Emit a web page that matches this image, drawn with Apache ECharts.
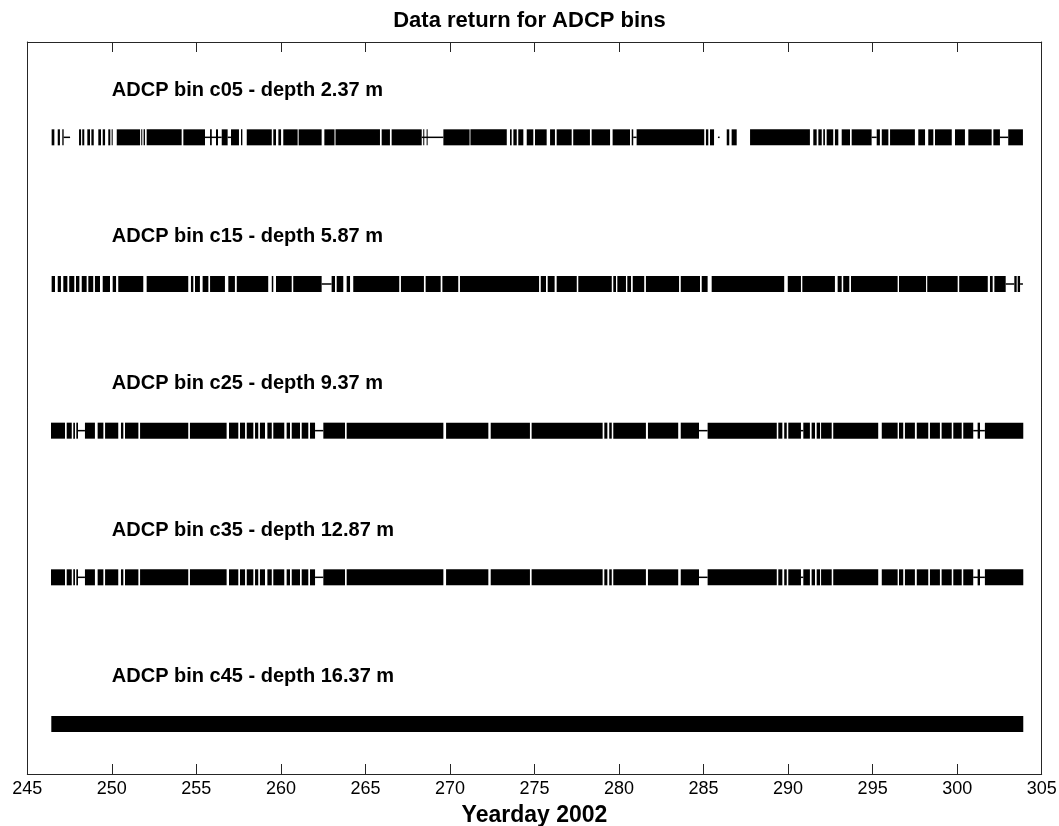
<!DOCTYPE html>
<html>
<head>
<meta charset="utf-8">
<script src="https://cdn.jsdelivr.net/npm/echarts@6/dist/echarts.min.js"></script>
<style>
html,body{margin:0;padding:0;background:#fff;}
#chart{width:1059px;height:826px;}
</style>
</head>
<body>
<div id="chart"></div>
<script>
// ---- data (yeardays) ----
const binLabels = ['ADCP bin c05 - depth 2.37 m','ADCP bin c15 - depth 5.87 m','ADCP bin c25 - depth 9.37 m','ADCP bin c35 - depth 12.87 m','ADCP bin c45 - depth 16.37 m'];
const binRows = [5, 4, 3, 2, 1];
const xTicks = [245,250,255,260,265,270,275,280,285,290,295,300,305];

const c05Segments = [[246.44,246.60],[246.80,246.93],[247.07,247.15],[248.06,248.18],[248.25,248.37],[248.55,248.71],[248.79,248.93],[249.20,249.36],[249.46,249.60],[249.79,249.91],[249.99,250.05],[250.29,251.67],[251.74,251.80],[251.88,251.96],[252.06,254.13],[254.23,255.51],[255.81,255.91],[256.16,256.28],[256.50,256.85],[257.05,257.52],[257.64,257.72],[257.98,259.46],[259.55,259.71],[259.85,260.01],[260.14,260.99],[261.05,262.41],[262.57,263.17],[263.23,265.86],[265.96,266.45],[266.55,268.33],[268.42,268.48],[268.62,268.66],[269.61,271.16],[271.21,273.36],[273.55,273.65],[273.75,273.95],[274.04,274.34],[274.54,274.93],[275.03,275.72],[275.92,276.21],[276.31,277.20],[277.29,278.28],[278.38,279.47],[279.62,280.65],[280.75,280.84],[281.04,285.04],[285.14,285.28],[285.38,285.62],[286.37,286.52],[286.66,286.96],[287.75,291.29],[291.49,291.69],[291.79,291.99],[292.08,292.18],[292.28,292.67],[292.77,292.97],[293.17,293.66],[293.76,294.94],[295.24,295.43],[295.54,295.93],[296.03,297.50],[297.70,298.10],[298.29,298.59],[298.69,299.68],[299.87,300.46],[300.66,302.04],[302.14,302.53],[303.02,303.89]];
const c05Sparse = [[247.15,247.53],[255.51,256.50],[256.85,257.05],[268.33,269.61],[280.84,281.04],[285.85,285.95],[294.94,295.24],[302.53,303.02]];

const c15Segments = [[246.44,246.64],[246.80,246.99],[247.13,247.37],[247.48,247.78],[247.88,248.08],[248.22,248.51],[248.61,248.90],[249.00,249.30],[249.46,249.89],[250.05,250.25],[250.38,251.86],[252.06,254.52],[254.68,254.82],[254.92,255.21],[255.37,255.71],[255.81,256.69],[256.89,257.28],[257.39,259.25],[259.46,259.55],[259.71,260.64],[260.73,262.41],[263.00,263.20],[263.30,263.69],[263.89,264.09],[264.28,267.00],[267.10,268.46],[268.56,269.45],[269.55,270.49],[270.59,275.27],[275.37,275.68],[275.78,276.19],[276.31,277.50],[277.59,279.57],[279.66,279.82],[279.90,280.41],[280.49,280.71],[280.81,281.49],[281.59,283.55],[283.65,284.79],[284.89,285.24],[285.48,289.77],[289.98,290.76],[290.84,292.77],[292.93,293.17],[293.26,293.62],[293.72,296.48],[296.56,298.16],[298.23,300.03],[300.12,301.81],[301.94,302.10],[302.20,302.87],[303.38,303.52],[303.58,303.72]];
const c15Sparse = [[262.41,263.00],[302.87,303.38],[303.72,303.89]];

const c25Segments = [[246.40,247.23],[247.33,247.63],[247.72,247.82],[247.90,248.00],[248.41,249.00],[249.16,249.50],[249.60,250.38],[250.54,250.68],[250.78,251.57],[251.67,254.52],[254.62,256.79],[256.93,257.48],[257.58,257.88],[257.98,258.37],[258.47,258.66],[258.76,259.06],[259.20,259.46],[259.55,260.20],[260.34,260.54],[260.64,261.13],[261.23,261.62],[261.72,262.02],[262.51,263.79],[263.89,269.61],[269.77,272.27],[272.41,274.73],[274.83,279.03],[279.13,279.31],[279.42,279.57],[279.66,281.59],[281.71,283.50],[283.65,284.73],[285.24,289.33],[289.42,289.66],[289.77,289.92],[290.01,290.76],[290.90,291.29],[291.39,291.59],[291.69,291.89],[291.95,292.58],[292.67,295.33],[295.54,296.48],[296.56,296.81],[296.91,297.50],[297.61,298.29],[298.39,298.98],[299.08,299.68],[299.77,300.27],[300.36,300.95],[301.21,301.35],[301.64,303.91]];
const c25Sparse = [[248.00,248.41],[262.02,262.51],[284.73,285.24],[290.76,290.90],[300.95,301.64]];

const c35Segments = [[246.40,247.23],[247.33,247.63],[247.72,247.82],[247.90,248.00],[248.41,249.00],[249.16,249.50],[249.60,250.38],[250.54,250.68],[250.78,251.57],[251.67,254.52],[254.62,256.79],[256.93,257.48],[257.58,257.88],[257.98,258.37],[258.47,258.66],[258.76,259.06],[259.20,259.46],[259.55,260.20],[260.34,260.54],[260.64,261.13],[261.23,261.62],[261.72,262.02],[262.51,263.79],[263.89,269.61],[269.77,272.27],[272.41,274.73],[274.83,279.03],[279.13,279.31],[279.42,279.57],[279.66,281.59],[281.71,283.50],[283.65,284.73],[285.24,289.33],[289.42,289.66],[289.77,289.92],[290.01,290.76],[290.90,291.29],[291.39,291.59],[291.69,291.89],[291.95,292.58],[292.67,295.33],[295.54,296.48],[296.56,296.81],[296.91,297.50],[297.61,298.29],[298.39,298.98],[299.08,299.68],[299.77,300.27],[300.36,300.95],[301.21,301.35],[301.64,303.91]];
const c35Sparse = [[248.00,248.41],[262.02,262.51],[284.73,285.24],[290.76,290.90],[300.95,301.64]];

const c45Segments = [[246.42,303.91]];
const c45Sparse = [];

// ---- build ----
const allSegments = [c05Segments, c15Segments, c25Segments, c35Segments, c45Segments];
const allSparse = [c05Sparse, c15Sparse, c25Sparse, c35Sparse, c45Sparse];
const rectData = [];
allSegments.forEach((segs, i) => segs.forEach(s => rectData.push([s[0], s[1], binRows[i], 0])));
allSparse.forEach((segs, i) => segs.forEach(s => rectData.push([s[0], s[1], binRows[i], 1])));
const labelData = binLabels.map((t, i) => [250, binRows[i] + 0.322, t]);

const FONT = '"Liberation Sans", Arial, Helvetica, sans-serif';
const chart = echarts.init(document.getElementById('chart'), null, {renderer: 'canvas'});
const axisColor = '#262626';
chart.setOption({
  animation: false,
  backgroundColor: '#fff',
  title: {
    text: 'Data return for ADCP bins', left: 'center', top: 5,
    textStyle: {fontFamily: FONT, fontWeight: 'bold', fontSize: 22, color: '#000'}
  },
  grid: {left: 27.3, right: 17.3, top: 42, bottom: 52, containLabel: false, outerBoundsMode: 'none'},
  xAxis: [{
    type: 'value', min: 245, max: 305, interval: 5, position: 'bottom',
    axisLine: {show: true, lineStyle: {color: axisColor, width: 1}},
    axisTick: {show: true, inside: true, length: 10, lineStyle: {color: axisColor}},
    axisLabel: {fontFamily: FONT, fontSize: 18, color: '#000', margin: 6},
    splitLine: {show: false},
    name: 'Yearday 2002', nameLocation: 'middle', nameGap: 30,
    nameTextStyle: {fontFamily: FONT, fontWeight: 'bold', fontSize: 23, color: '#000'}
  }, {
    type: 'value', min: 245, max: 305, interval: 5, position: 'top',
    axisLine: {show: true, lineStyle: {color: axisColor, width: 1}},
    axisTick: {show: true, inside: true, length: 10, lineStyle: {color: axisColor}},
    axisLabel: {show: false}, splitLine: {show: false}
  }],
  yAxis: [{
    type: 'value', min: 0.659, max: 5.65, position: 'left',
    axisLine: {show: true, lineStyle: {color: axisColor, width: 1}},
    axisTick: {show: false}, axisLabel: {show: false}, splitLine: {show: false}
  }, {
    type: 'value', min: 0.659, max: 5.65, position: 'right',
    axisLine: {show: true, lineStyle: {color: axisColor, width: 1}},
    axisTick: {show: false}, axisLabel: {show: false}, splitLine: {show: false}
  }],
  series: [{
    type: 'custom',
    xAxisIndex: 0, yAxisIndex: 0,
    data: rectData,
    renderItem: function (params, api) {
      const p1 = api.coord([api.value(0), api.value(2)]);
      const p2 = api.coord([api.value(1), api.value(2)]);
      const thin = api.value(3) === 1;
      const h = thin ? 1.5 : 16;
      return {
        type: 'rect',
        shape: {x: p1[0], y: p1[1] - h / 2, width: Math.max(p2[0] - p1[0], 1), height: h},
        style: {fill: '#000'}
      };
    }
  }, {
    type: 'custom',
    xAxisIndex: 0, yAxisIndex: 0,
    data: labelData,
    renderItem: function (params, api) {
      const p = api.coord([api.value(0), api.value(1)]);
      return {
        type: 'text',
        x: p[0], y: p[1],
        style: {text: labelData[params.dataIndex][2], fill: '#000', font: 'bold 20px ' + FONT, align: 'left', verticalAlign: 'middle'}
      };
    }
  }]
});
</script>
</body>
</html>
